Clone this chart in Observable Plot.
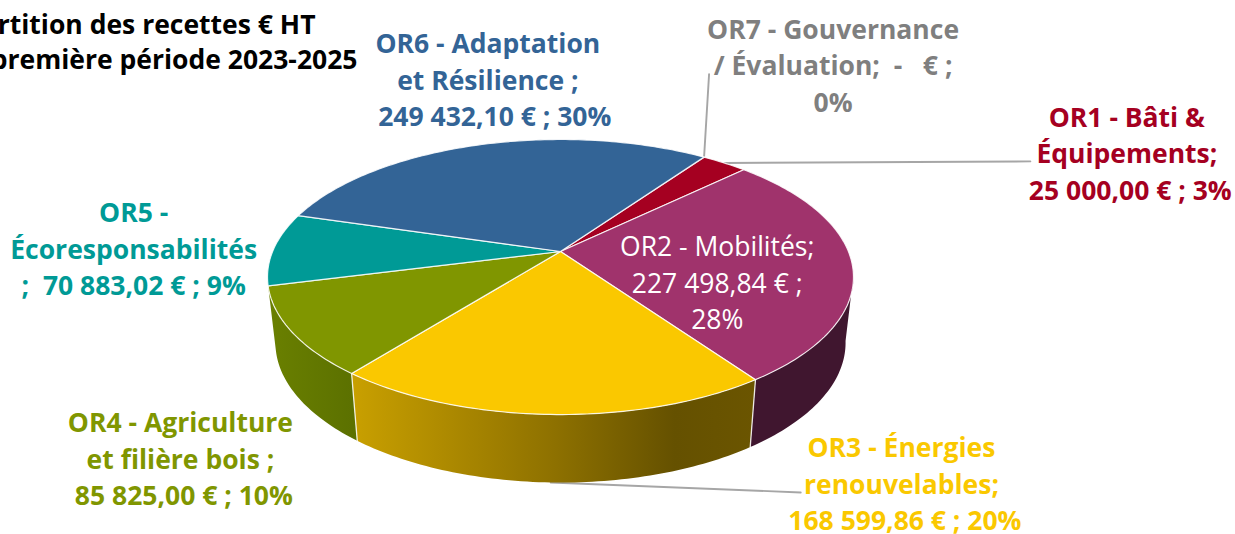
<!DOCTYPE html>
<html><head><meta charset="utf-8">
<style>html,body{margin:0;padding:0;background:#fff;overflow:hidden}svg{display:block}</style>
<script src="https://cdn.jsdelivr.net/npm/d3@7"></script>
<script src="https://cdn.jsdelivr.net/npm/@observablehq/plot@0.6"></script>
</head><body><div id="chart"></div>
<script>
// --- data ---
const names = ["OR1","OR2","OR3","OR4","OR5","OR6","OR7"];
const values = [25000.00, 227498.84, 168599.86, 85825.00, 70883.02, 249432.10, 0];
const labels = [
  "OR1 - Bâti &\nÉquipements;\n 25 000,00 € ; 3%",
  "OR2 - Mobilités;\n227 498,84 € ;\n28%",
  "OR3 - Énergies\nrenouvelables;\n 168 599,86 € ; 20%",
  "OR4 - Agriculture\net filière bois ;\n 85 825,00 € ; 10%",
  "OR5 -\nÉcoresponsabilités\n;  70 883,02 € ; 9%",
  "OR6 - Adaptation\net Résilience ;\n  249 432,10 € ; 30%",
  "OR7 - Gouvernance\n/ Évaluation;  -   € ;\n0%"
];
const titleLines = ["Répartition des recettes € HT", "sur la première période 2023-2025"];

// --- styles ---
const topColors = ["#a50021","#a0336c","#fac800","#809600","#009a96","#336496","#7f7f7f"];
const textColors = ["#a50021","#ffffff","#fac800","#809600","#009a96","#336496","#7f7f7f"];
const wallStops = {
  1: [[0,"#40162f"],[1,"#40162f"]],
  2: [[0,"#c9a000"],[0.5,"#8e7100"],[0.8,"#655100"],[1,"#6b5500"]],
  3: [[0,"#6a8000"],[1,"#5b7000"]]
};

// --- layout: offsets of each label and leader from its slice's anchor ---
const labelDx = [402.5,-135,351,-111.5,-140,8,129];
const labelDy = [-11.5,16.5,67.5,125,-2,-66.5,-93.5];
const leaders = [
  {slice:0, bottom:false, dx:306, dy:-1.6},
  {slice:2, bottom:true,  dx:250, dy:10},
  {slice:6, bottom:false, dx:5,   dy:-83}
];
const titleRight = [315, 357], titleTop = [15, 50];

// --- perspective of the disc ---
const K = 0.1855, RX = 287.9, CX = 560;
const topDisc = {scale:1, cy:251, h:132.8};
const botDisc = {scale:0.973, cy:316.3, h:135};
const project = (deg, d) => {
  const a = deg*Math.PI/180, u = Math.sin(a), v = -Math.cos(a), s = 1/(1-K*v);
  return {x: CX + d.scale*RX*u*s, y: d.cy + d.h*v*s};
};
const arcPts = (a0,a1,d) => {
  const n = Math.max(2, Math.ceil(Math.abs(a1-a0)));
  return d3.range(n+1).map(i => project(a0+(a1-a0)*i/n, d));
};
const START = 35.06;
const slices = d3.pie().sort(null).startAngle(START*Math.PI/180).endAngle((START+360)*Math.PI/180)(values)
  .map(p => ({i:p.index, a0:p.startAngle*180/Math.PI, a1:p.endAngle*180/Math.PI, mid:(p.startAngle+p.endAngle)*90/Math.PI}));

const apex = {x:CX, y:topDisc.cy};
const WALL_FROM = 100, WALL_TO = 255.66;

const walls = slices.filter(s => wallStops[s.i]).map(s => {
  const a0 = Math.max(s.a0, WALL_FROM), a1 = Math.min(s.a1, WALL_TO);
  return Plot.line([...arcPts(a0,a1,topDisc), ...arcPts(a1,a0,botDisc)],
    {x:"x", y:"y", fill:`url(#wall${s.i})`, stroke:"none", curve:"linear-closed"});
});
const seams = slices.filter(s => s.a0 > WALL_FROM && s.a0 < WALL_TO).map(s =>
  Plot.line([project(s.a0,topDisc), project(s.a0,botDisc)],
    {x:"x", y:"y", stroke:"#fff", strokeWidth:1.3, strokeOpacity:0.85}));
const tops = slices.filter(s => s.a1 > s.a0).map(s =>
  Plot.line([apex, ...arcPts(s.a0,s.a1,topDisc)],
    {x:"x", y:"y", fill:topColors[s.i], stroke:"#fff", strokeWidth:1.2, strokeOpacity:0.85, curve:"linear-closed"}));
const leaderMarks = leaders.map(l => {
  const p = project(slices[l.slice].mid, l.bottom ? botDisc : topDisc);
  return Plot.line([p, {x:p.x+l.dx, y:p.y+l.dy}], {x:"x", y:"y", stroke:"#a6a6a6", strokeWidth:1.9});
});
const labelMarks = slices.map(s => {
  const p = project(s.mid, topDisc);
  return Plot.text([labels[s.i]], {
    x:[p.x], y:[p.y], text:d=>d,
    dx:labelDx[s.i], dy:labelDy[s.i],
    fill:textColors[s.i], fontFamily:"Open Sans", fontSize:26.5, fontWeight:s.i===1?400:700,
    textAnchor:"middle", lineAnchor:"middle", lineHeight:1.377
  });
});
const titleMarks = titleLines.map((t,i) => Plot.text([t], {
  frameAnchor:"top-left", dx:titleRight[i], dy:titleTop[i], text:d=>d, fill:"#000",
  fontFamily:"Open Sans", fontSize:26.5, fontWeight:700, textAnchor:"end", lineAnchor:"top"
}));
const defs = () => {
  const d = d3.create("svg:defs");
  for (const [i,stops] of Object.entries(wallStops)) {
    const g = d.append("linearGradient").attr("id",`wall${i}`);
    for (const [o,c] of stops) g.append("stop").attr("offset",o).attr("stop-color",c);
  }
  return d.node();
};

document.getElementById("chart").append(Plot.plot({
  width:1235, height:534, margin:0,
  x:{domain:[0,1235], range:[0,1235], axis:null},
  y:{domain:[0,534], range:[0,534], axis:null},
  style:{background:"#fff", overflow:"hidden"},
  marks:[
    defs,
    ...leaderMarks,
    ...walls, ...seams, ...tops,
    ...titleMarks,
    ...labelMarks
  ]
}));
</script></body></html>
